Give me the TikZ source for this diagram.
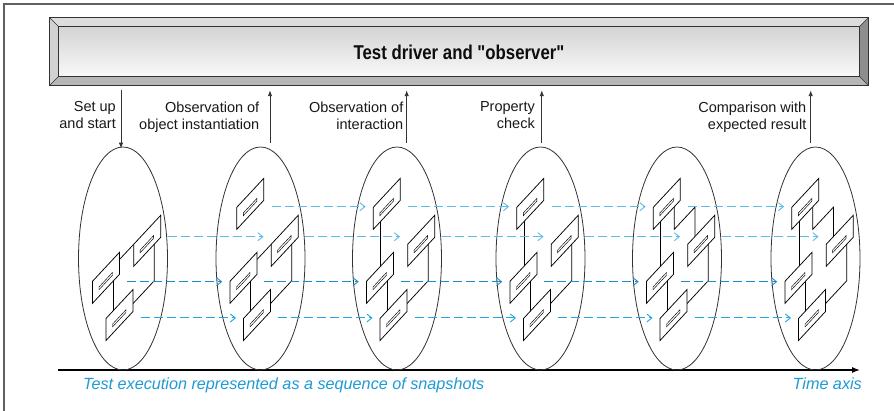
\documentclass[tikz,border=0pt]{standalone}
\usepackage{fontspec}
\setmainfont{Liberation Sans}
\newfontfamily\titlefont{Liberation Sans}[Ligatures=TeXOff]
\usepackage{graphicx}
\usetikzlibrary{arrows.meta,calc,shapes.geometric}

\definecolor{framegray}{HTML}{606060}
\definecolor{linegray}{HTML}{333333}
\definecolor{bevtop}{HTML}{DDDDDD}
\definecolor{bevleft}{HTML}{D2D2D2}
\definecolor{bevbottom}{HTML}{B6B6B6}
\definecolor{bevright}{HTML}{8E8E8E}
\definecolor{facetop}{HTML}{D4D4D4}
\definecolor{facebot}{HTML}{F8F8F8}
\definecolor{flowlight}{HTML}{5BBDE8}
\definecolor{flowdark}{HTML}{1B8DC7}
\definecolor{flowmid}{HTML}{22A8DE}
\definecolor{noteblue}{HTML}{1E9AD6}

\tikzset{
  snap/.style={ellipse, draw=linegray, line width=0.8pt, minimum width=89pt,
    minimum height=223pt, inner sep=0pt},
  objline/.style={draw=black, line width=0.75pt, line join=miter},
  slotline/.style={draw=black, line width=0.45pt},
  ctl/.style={draw=linegray, line width=0.9pt, -{Latex[length=6pt,width=4.5pt]}},
  flowbase/.style={line width=1pt, dash pattern=on 9pt off 4pt,
    -{Straight Barb[length=5pt,width=8pt,line width=0.9pt]}},
  flowA/.style={flowbase, draw=flowlight},
  flowC/.style={flowbase, draw=flowdark},
  flowD/.style={flowbase, draw=flowmid},
  lbl/.style={align=right, anchor=north east, inner sep=0pt,
    font=\fontsize{14.5}{17}\selectfont, text=black!90},
  note/.style={inner sep=0pt, text=noteblue,
    font=\fontsize{16.2}{19}\selectfont\itshape},
  pics/snapobj/.style={code={
    \draw[objline, fill=white] (0,0) -- (0,-22) -- (27,-51) -- (27,-29) -- cycle;
    \draw[slotline] (6.5,-13.6) -- (20,-28.1) -- (20,-30.8) -- (6.5,-16.3) -- cycle;
  }},
}

% links between the objects of one snapshot (x relative to the snapshot centre)
\newcommand\linkAB{\draw[objline] (-3.8,259.8) -- (10.7,244.3);}
\newcommand\linkBC{\draw[objline] (-10,279) -- (-10,313);}
\newcommand\linkAC{\draw[objline] (31.3,242) -- (31.3,280.7) -- (9.7,303.9);}
\newcommand\linkDB{\draw[objline] (-16.3,219) -- (-16.3,268);}
\newcommand\linkDA{\draw[objline] (-2.7,206.7) -- (-2.7,229.3) -- (18,207.1) -- (18,238);}
\newcommand\objA{\pic at (10.7,266.3) {snapobj};}
\newcommand\objB{\pic at (-30.5,303.3) {snapobj};}
\newcommand\objC{\pic at (-17,340.5) {snapobj};}
\newcommand\objD{\pic at (-23.7,229.3) {snapobj};}

\begin{document}
\begin{tikzpicture}[x=1pt,y=-1pt]
\useasboundingbox (0,0) rectangle (894,411);
\fill[white] (0,0) rectangle (894,411);

% outer frame
\draw[framegray, line width=1.2pt] (4,411) -- (4,4) -- (894,4);

% bevelled driver bar
\node[minimum width=818pt, minimum height=67pt, inner sep=0pt] (bar) at (459,51.5) {};
\fill[bevtop] (bar.north west) -- (bar.north east) -- ($(bar.north east)+(-9,9)$) -- ($(bar.north west)+(9,9)$) -- cycle;
\fill[bevright] (bar.north east) -- (bar.south east) -- ($(bar.south east)+(-9,-9)$) -- ($(bar.north east)+(-9,9)$) -- cycle;
\fill[bevbottom] (bar.south west) -- (bar.south east) -- ($(bar.south east)+(-9,-9)$) -- ($(bar.south west)+(9,-9)$) -- cycle;
\fill[bevleft] (bar.north west) -- ($(bar.north west)+(9,9)$) -- ($(bar.south west)+(9,-9)$) -- (bar.south west) -- cycle;
\shade[top color=facetop, bottom color=facebot] ($(bar.north west)+(9,9)$) rectangle ($(bar.south east)+(-9,-9)$);
\draw[linegray, line width=0.7pt] ($(bar.north west)+(9,9)$) rectangle ($(bar.south east)+(-9,-9)$);
\draw[linegray, line width=0.6pt] (bar.north west) -- ++(9,9) (bar.north east) -- ++(-9,9)
  (bar.south west) -- ++(9,-9) (bar.south east) -- ++(-9,-9);
\draw[linegray, line width=0.9pt] (bar.north west) rectangle (bar.south east);
\node[inner sep=0pt, text=black!95] (title) at (459,52)
  {\scalebox{0.84}[1]{\titlefont\bfseries\fontsize{20}{24}\selectfont Test driver and "observer"}};

% time axis
\coordinate (t0) at (58,370);
\coordinate (t1) at (860,370);
\draw[line width=1.2pt, -{Latex[length=8pt,width=6pt]}] (t0) -- (t1);

% snapshots
\node[snap] (e1) at (123,258.5) {};
\node[snap] (e2) at (260.5,258.5) {};
\node[snap] (e3) at (397,258.5) {};
\node[snap] (e4) at (540.5,258.5) {};
\node[snap] (e5) at (677,258.5) {};
\node[snap] (e6) at (815.5,258.5) {};

\begin{scope}[shift={(123,0)}]
  \linkAB \linkBC \linkAC \objA \objB \objC
\end{scope}
\begin{scope}[shift={(260.5,0)}]
  \linkAB \linkBC \linkAC \objA \objB \objC \objD
\end{scope}
\begin{scope}[shift={(397,0)}]
  \linkDB \linkBC \linkAC \objA \objB \objC \objD
\end{scope}
\begin{scope}[shift={(540.5,0)}]
  \linkDB \linkBC \linkAC \objA \objB \objC \objD
\end{scope}
\begin{scope}[shift={(677,0)}]
  \linkDA \linkDB \linkBC \linkAC \objA \objB \objC \objD
\end{scope}
\begin{scope}[shift={(815.5,0)}]
  \linkDA \linkDB \linkBC \linkAC \objA \objB \objC \objD
\end{scope}

% object identity carried from one snapshot to the next
\foreach \s/\t in {e1/e2,e2/e3,e3/e4,e4/e5,e5/e6} {
  \draw[flowA] ($(\s.center)+(44.7,-21.8)$) -- ($(\t.center)+(3,-21.8)$);
  \draw[flowC] ($(\s.center)+(3.5,23.2)$) -- ($(\t.center)+(-38.3,23.2)$);
  \draw[flowD] ($(\s.center)+(17.5,59.5)$) -- ($(\t.center)+(-24.5,59.5)$);
}
\foreach \s/\t in {e2/e3,e3/e4,e4/e5,e5/e6} {
  \draw[flowA] ($(\s.center)+(11,-51.8)$) -- ($(\t.center)+(-31.4,-51.8)$);
}

% control and observation arrows
\draw[ctl] ($(e1.north |- bar.south)+(-2,5)$) -- ($(e1.north)+(-2,2)$);
\draw[ctl] ($(e2.north)+(9.5,-4)$) -- ($(e2.north |- bar.south)+(9.5,5)$);
\draw[ctl] ($(e3.north)+(9.7,-4)$) -- ($(e3.north |- bar.south)+(9.7,5)$);
\draw[ctl] ($(e4.north)+(1.3,-4)$) -- ($(e4.north |- bar.south)+(1.3,5)$);
\draw[ctl] ($(e6.north)+(-4.8,-4)$) -- ($(e6.north |- bar.south)+(-4.8,5)$);

\node[lbl] (l1) at (116,101.5) {Set up\\and start};
\node[lbl] (l2) at (259.5,101.5) {Observation of\\object instantiation};
\node[lbl] (l3) at (403.5,101.5) {Observation of\\interaction};
\node[lbl] (l4) at (535,101.5) {Property\\check};
\node[lbl] (l5) at (806.5,101.5) {Comparison with\\expected result};

\node[note, anchor=west] (caption) at (83,385) {Test execution represented as a sequence of snapshots};
\node[note, anchor=east] (taxis) at (862,384) {Time axis};
\end{tikzpicture}
\end{document}
